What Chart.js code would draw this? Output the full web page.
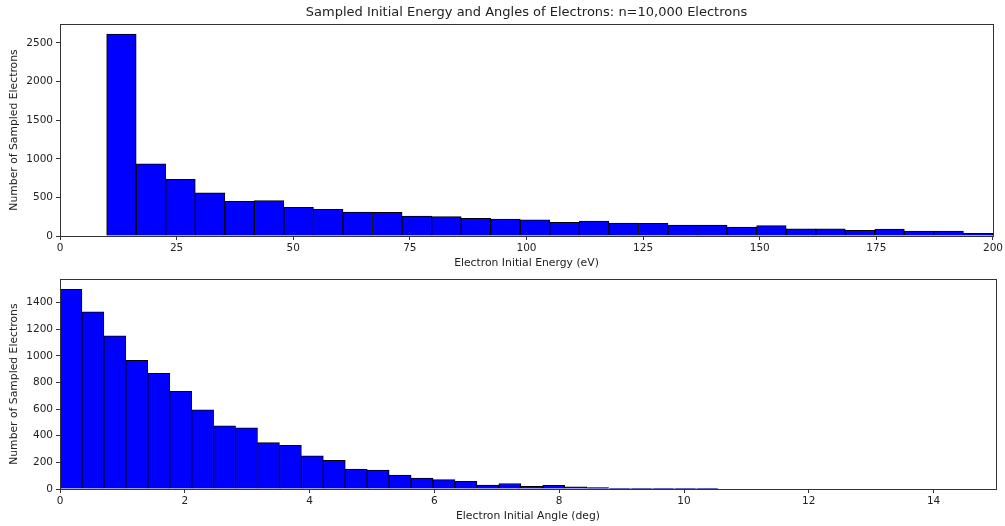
<!DOCTYPE html>
<html>
<head>
<meta charset="utf-8">
<script src="https://cdn.jsdelivr.net/npm/chart.js@4.4.0/dist/chart.umd.min.js"></script>
<style>
  body { margin: 0; background: #fff; }
  canvas { position: absolute; left: 0; }
  #energyChart { top: 0; }
  #angleChart { top: 270px; }
</style>
</head>
<body>
<canvas id="energyChart" width="1005" height="270"></canvas>
<canvas id="angleChart" width="1005" height="256"></canvas>
<script>
// energy histogram: 30 bins from 10 to 200 eV
const energyBinStart = 10;
const energyBinEnd = 200;
const energyCounts = [2615, 934, 735, 558, 450, 458, 372, 346, 311, 308,
                      259, 250, 228, 220, 211, 178, 194, 167, 163, 141,
                      141, 117, 135, 94, 94, 73, 89, 63, 63, 34];
const energyXTicks = [0, 25, 50, 75, 100, 125, 150, 175, 200];
const energyYTicks = [0, 500, 1000, 1500, 2000, 2500];

// angle histogram: 30 bins from 0 to ~10.55 deg
const angleBinStart = 0;
const angleBinEnd = 10.55;
const angleCounts = [1500, 1330, 1151, 967, 868, 734, 594, 475, 460, 348,
                     328, 249, 216, 150, 142, 104, 82, 70, 57, 30,
                     41, 20, 27, 16, 10, 5, 5, 5, 3, 3];
const angleXTicks = [0, 2, 4, 6, 8, 10, 12, 14];
const angleYTicks = [0, 200, 400, 600, 800, 1000, 1200, 1400];

const mainTitle = 'Sampled Initial Energy and Angles of Electrons: n=10,000 Electrons';
const yTitle = 'Number of Sampled Electrons';

const textColor = '#222';
const lineColor = '#333';

function toBins(start, end, counts) {
  const w = (end - start) / counts.length;
  return counts.map((c, i) => ({ x: start + (i + 0.5) * w, y: c }));
}

const frame = {
  id: 'frame',
  afterDatasetsDraw(chart) {
    const { ctx, chartArea: a } = chart;
    ctx.save();
    ctx.strokeStyle = lineColor;
    ctx.lineWidth = 1;
    ctx.strokeRect(Math.round(a.left) + 0.5, Math.round(a.top) + 0.5,
                   Math.round(a.width), Math.round(a.height));
    ctx.restore();
  }
};

function fixedTicks(values) {
  return (scale) => { scale.ticks = values.map((v) => ({ value: v })); };
}

function makeHist(canvasId, opts) {
  const ctx = document.getElementById(canvasId);
  new Chart(ctx, {
    type: 'bar',
    data: {
      datasets: [{
        data: toBins(opts.binStart, opts.binEnd, opts.counts),
        backgroundColor: '#0000ff',
        borderColor: '#000',
        borderWidth: 1,
        barPercentage: 1,
        categoryPercentage: 1
      }]
    },
    options: {
      responsive: false,
      animation: false,
      layout: { padding: opts.padding },
      plugins: {
        legend: { display: false },
        tooltip: { enabled: false },
        title: {
          display: !!opts.title,
          text: opts.title,
          fullSize: false,
          color: textColor,
          font: { family: 'DejaVu Sans', size: 13, weight: 'normal' },
          padding: { top: 5, bottom: 3.4 }
        }
      },
      scales: {
        x: {
          type: 'linear',
          offset: false,
          min: opts.xMin,
          max: opts.xMax,
          afterBuildTicks: fixedTicks(opts.xTicks),
          afterFit: (scale) => { scale.height = opts.xAxisHeight; },
          border: { display: false },
          grid: { offset: false, drawOnChartArea: false, drawTicks: true, tickLength: 4, color: lineColor },
          ticks: {
            maxRotation: 0,
            autoSkip: false,
            color: textColor,
            padding: 2,
            font: { family: 'DejaVu Sans', size: 10.5 },
            callback: (v) => String(v)
          },
          title: {
            display: true,
            text: opts.xTitle,
            color: textColor,
            font: { family: 'DejaVu Sans', size: 10.8 },
            padding: { top: 0, bottom: opts.xTitlePad }
          }
        },
        y: {
          min: 0,
          max: Math.max(...opts.counts) * 1.05,
          afterBuildTicks: fixedTicks(opts.yTicks),
          afterFit: (scale) => { scale.width = 60; },
          border: { display: false },
          grid: { drawOnChartArea: false, drawTicks: true, tickLength: 4, color: lineColor },
          ticks: {
            autoSkip: false,
            color: textColor,
            padding: 3,
            font: { family: 'DejaVu Sans', size: 10.5 },
            callback: (v) => String(v)
          },
          title: {
            display: true,
            text: yTitle,
            color: textColor,
            font: { family: 'DejaVu Sans', size: 10.8 },
            padding: { top: 8, bottom: 0 }
          }
        }
      }
    },
    plugins: [frame]
  });
}

makeHist('energyChart', {
  binStart: energyBinStart, binEnd: energyBinEnd, counts: energyCounts,
  title: mainTitle,
  xTitle: 'Electron Initial Energy (eV)',
  xMin: 0, xMax: 200, xTicks: energyXTicks, yTicks: energyYTicks,
  xAxisHeight: 34, xTitlePad: 0,
  padding: { left: 0, right: 9, top: 0, bottom: 0 }
});

makeHist('angleChart', {
  binStart: angleBinStart, binEnd: angleBinEnd, counts: angleCounts,
  title: '',
  xTitle: 'Electron Initial Angle (deg)',
  xMin: 0, xMax: 15, xTicks: angleXTicks, yTicks: angleYTicks,
  xAxisHeight: 37, xTitlePad: 3,
  padding: { left: 0, right: 9, top: 8, bottom: 0 }
});
</script>
</body>
</html>
